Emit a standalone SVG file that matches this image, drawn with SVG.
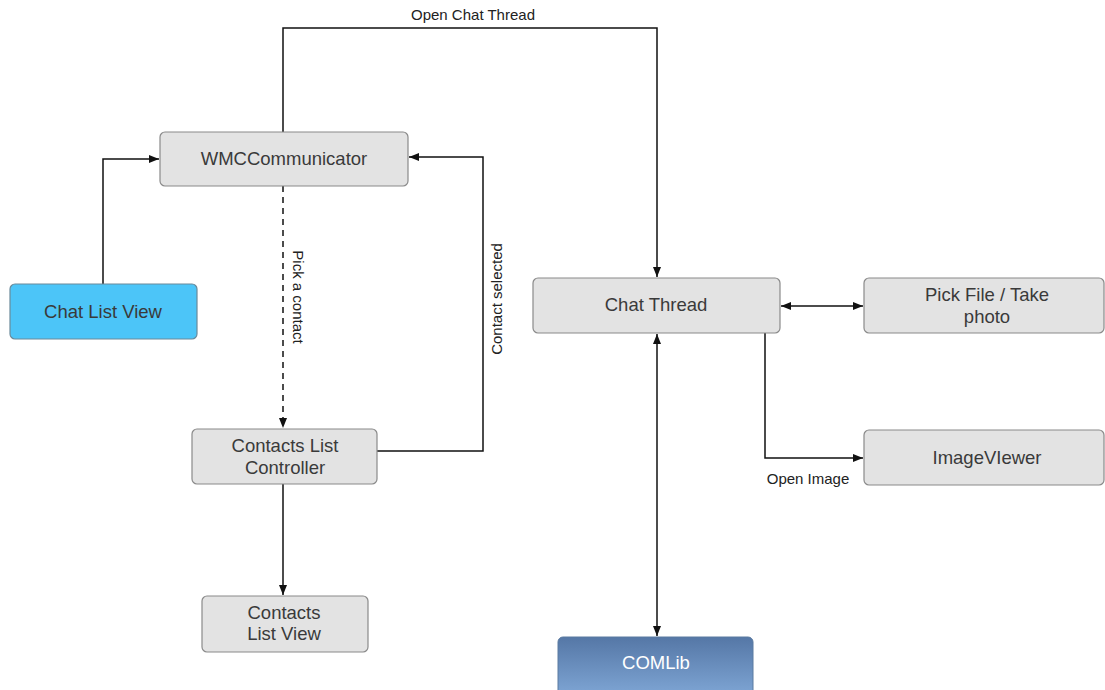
<svg xmlns="http://www.w3.org/2000/svg" width="1105" height="690" viewBox="0 0 1105 690">
<style>
.box{fill:#e3e3e3;stroke:#8a8a8a;stroke-width:1.2}
.t{font-family:"Liberation Sans",Arial,sans-serif;font-size:18.5px;fill:#3a3a3a;text-anchor:middle}
.lbl{font-family:"Liberation Sans",Arial,sans-serif;font-size:15px;fill:#222;text-anchor:middle}
.c{fill:none;stroke:#111;stroke-width:1.5}
</style>
<defs>
<marker id="ah" viewBox="0 0 10 8" refX="10" refY="4" markerWidth="10" markerHeight="8" markerUnits="userSpaceOnUse" orient="auto-start-reverse">
<path d="M0,0 L10,4 L0,8 Z" fill="#111"/>
</marker>
<linearGradient id="blue" x1="0" y1="0" x2="0" y2="1">
<stop offset="0" stop-color="#5577a6"/>
<stop offset="1" stop-color="#7ea5d4"/>
</linearGradient>
</defs>
<rect width="1105" height="690" fill="#fff"/>
<g id="connectors">
<path class="c" d="M283,132 V28 H657 V277" marker-end="url(#ah)"/>
<path class="c" d="M103,284 V159 H159" marker-end="url(#ah)"/>
<path class="c" d="M283,186 V428" stroke-dasharray="6,5" marker-end="url(#ah)"/>
<path class="c" d="M377,451 H483 V157 H409" marker-end="url(#ah)"/>
<path class="c" d="M283,484 V595" marker-end="url(#ah)"/>
<path class="c" d="M781,306 H863" marker-start="url(#ah)" marker-end="url(#ah)"/>
<path class="c" d="M657,334 V636" marker-start="url(#ah)" marker-end="url(#ah)"/>
<path class="c" d="M765,333 V458 H863" marker-end="url(#ah)"/>
<text class="lbl" x="473" y="20">Open Chat Thread</text>
<text class="lbl" x="808" y="484">Open Image</text>
<text class="lbl" transform="translate(293,297) rotate(90)">Pick a contact</text>
<text class="lbl" transform="translate(502,299) rotate(-90)">Contact selected</text>
</g>
<g id="wmc">
<rect class="box" x="160" y="132" width="248" height="54" rx="5"/>
<text class="t" x="284" y="165">WMCCommunicator</text>
</g>
<g id="chatlistview">
<rect x="10" y="284" width="187" height="55" rx="5" fill="#4cc5f8" stroke="#6a8a9a" stroke-width="1.2"/>
<text class="t" x="103" y="318" fill="#223">Chat List View</text>
</g>
<g id="contactslistcontroller">
<rect class="box" x="192" y="429" width="185" height="55" rx="5"/>
<text class="t" x="285" y="452">Contacts List</text>
<text class="t" x="285" y="474">Controller</text>
</g>
<g id="contactslistview">
<rect class="box" x="202" y="596" width="166" height="56" rx="5"/>
<text class="t" x="284" y="619">Contacts</text>
<text class="t" x="284" y="640">List View</text>
</g>
<g id="chatthread">
<rect class="box" x="533" y="278" width="247" height="55" rx="5"/>
<text class="t" x="656" y="311">Chat Thread</text>
</g>
<g id="pickfile">
<rect class="box" x="864" y="278" width="240" height="55" rx="5"/>
<text class="t" x="987" y="301">Pick File / Take</text>
<text class="t" x="987" y="323">photo</text>
</g>
<g id="imageviewer">
<rect class="box" x="864" y="430" width="240" height="55" rx="5"/>
<text class="t" x="987" y="464">ImageVIewer</text>
</g>
<g id="comlib">
<rect x="558" y="637" width="195" height="58" rx="5" fill="url(#blue)" stroke="#5a7aa0" stroke-width="1"/>
<text class="t" x="656" y="669" style="fill:#fff">COMLib</text>
</g>
</svg>
